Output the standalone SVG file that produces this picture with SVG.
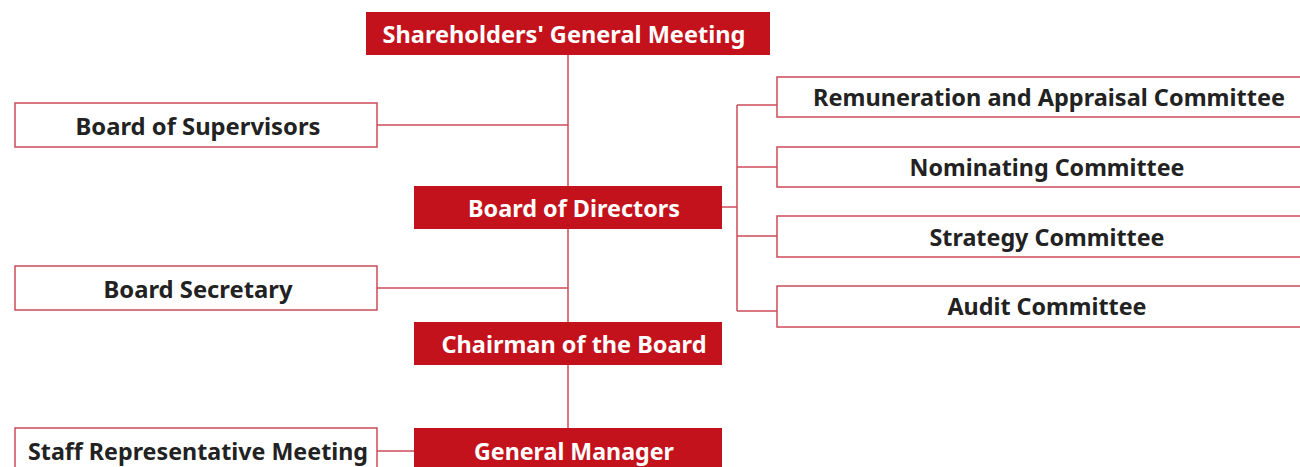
<svg xmlns="http://www.w3.org/2000/svg" width="1300" height="467" viewBox="0 0 1300 467">
<style>
.red{fill:#c4121c;}
.wb{fill:#ffffff;stroke:#cc4a5a;stroke-width:1.5;}
.tw{fill:#ffffff;font-family:"Noto Sans","Liberation Sans",sans-serif;font-weight:700;font-size:23px;text-anchor:middle;}
.td{fill:#222222;font-family:"Noto Sans","Liberation Sans",sans-serif;font-weight:700;font-size:23px;text-anchor:middle;}
.ln{stroke:#cc4a5a;stroke-width:1.5;fill:none;}
</style>
<rect width="1300" height="467" fill="#ffffff"/>
<g id="connectors">
<path class="ln" d="M568,55 V428"/>
<path class="ln" d="M377,125 H568"/>
<path class="ln" d="M377,288 H568"/>
<path class="ln" d="M377,451 H414"/>
<path class="ln" d="M722,207 H737"/>
<path class="ln" d="M737,105 V311"/>
<path class="ln" d="M737,105 H777"/>
<path class="ln" d="M737,167 H777"/>
<path class="ln" d="M737,236 H777"/>
<path class="ln" d="M737,311 H777"/>
</g>
<g id="shareholders"><rect class="red" x="366" y="12" width="404" height="43"/><text class="tw" x="564" y="43" textLength="363" lengthAdjust="spacingAndGlyphs">Shareholders' General Meeting</text></g>
<g id="supervisors"><rect class="wb" x="15" y="103" width="362" height="44"/><text class="td" x="198" y="135" textLength="245" lengthAdjust="spacingAndGlyphs">Board of Supervisors</text></g>
<g id="directors"><rect class="red" x="414" y="186" width="308" height="43"/><text class="tw" x="574" y="217" textLength="212" lengthAdjust="spacingAndGlyphs">Board of Directors</text></g>
<g id="remuneration"><rect class="wb" x="777" y="77" width="530" height="40"/><text class="td" x="1049" y="106" textLength="472" lengthAdjust="spacingAndGlyphs">Remuneration and Appraisal Committee</text></g>
<g id="nominating"><rect class="wb" x="777" y="147" width="530" height="40"/><text class="td" x="1047" y="176" textLength="275" lengthAdjust="spacingAndGlyphs">Nominating Committee</text></g>
<g id="strategy"><rect class="wb" x="777" y="216" width="530" height="41"/><text class="td" x="1047" y="246" textLength="235" lengthAdjust="spacingAndGlyphs">Strategy Committee</text></g>
<g id="audit"><rect class="wb" x="777" y="286" width="530" height="41"/><text class="td" x="1047" y="315" textLength="199" lengthAdjust="spacingAndGlyphs">Audit Committee</text></g>
<g id="secretary"><rect class="wb" x="15" y="266" width="362" height="44"/><text class="td" x="198" y="298" textLength="189" lengthAdjust="spacingAndGlyphs">Board Secretary</text></g>
<g id="chairman"><rect class="red" x="414" y="322" width="308" height="43"/><text class="tw" x="574" y="353" textLength="265" lengthAdjust="spacingAndGlyphs">Chairman of the Board</text></g>
<g id="staff"><rect class="wb" x="15" y="428" width="362" height="50"/><text class="td" x="198" y="460" textLength="340" lengthAdjust="spacingAndGlyphs">Staff Representative Meeting</text></g>
<g id="manager"><rect class="red" x="414" y="428" width="308" height="50"/><text class="tw" x="574" y="460" textLength="200" lengthAdjust="spacingAndGlyphs">General Manager</text></g>
</svg>
